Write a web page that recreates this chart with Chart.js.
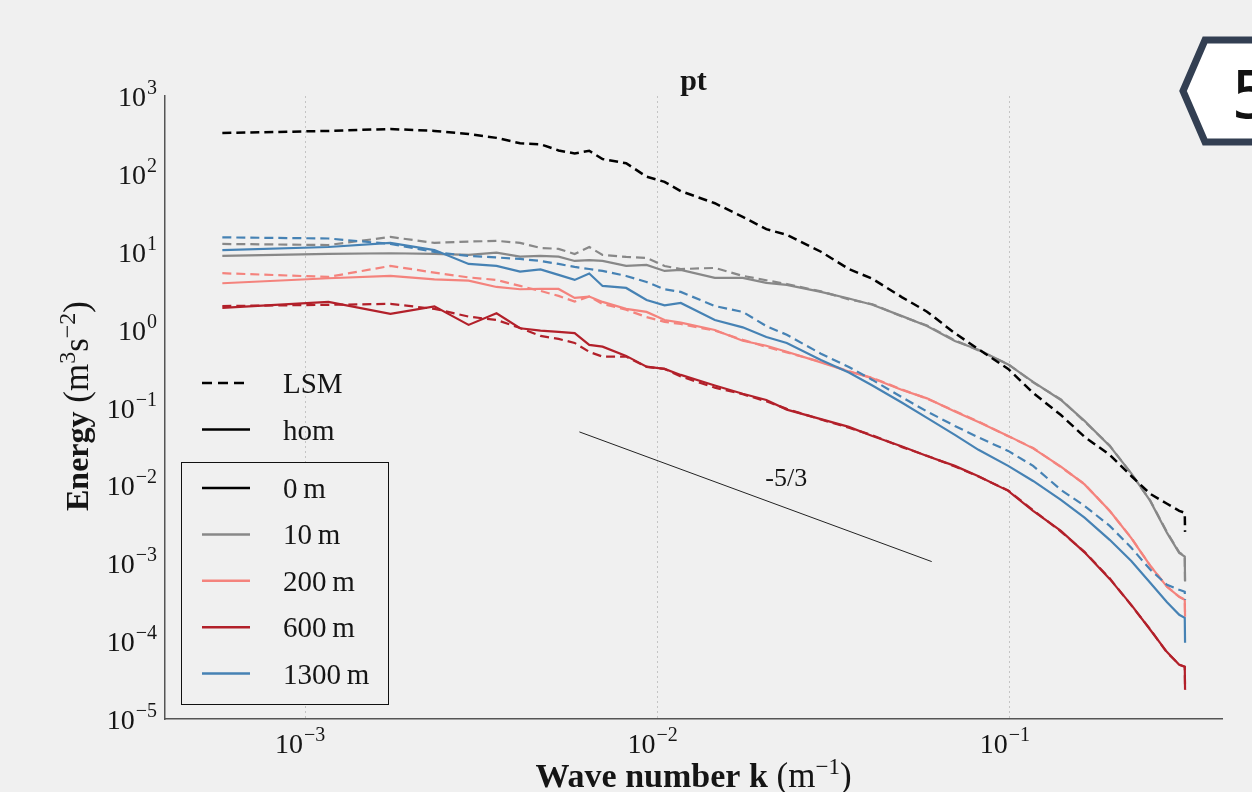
<!DOCTYPE html>
<html>
<head>
<meta charset="utf-8">
<script src="https://cdn.jsdelivr.net/npm/chart.js@4.4.0/dist/chart.umd.min.js"></script>
<style>
  html, body { margin: 0; padding: 0; background: #f0f0f0; }
  #wrap { position: relative; width: 1252px; height: 792px; overflow: hidden; }
  #badge { position: absolute; left: 0; top: 0; pointer-events: none; }
</style>
</head>
<body>
<div id="wrap">
  <canvas id="spectraChart" width="1252" height="792"></canvas>
  <svg id="badge" width="1252" height="792">
    <polygon points="1183,91 1205,40 1262,40 1262,142 1205,142" fill="#ffffff" stroke="#333f52" stroke-width="7" stroke-linejoin="miter"/>
    <text x="1231" y="118" font-family="DejaVu Sans" font-size="66" fill="#111">5</text>
  </svg>
</div>
<script>
// wave numbers (m^-1) the spectra were read at
const kValues = [5.818e-4, 1.164e-3, 1.745e-3, 2.327e-3, 2.909e-3, 3.491e-3, 4.072e-3, 4.654e-3,
    5.236e-3, 5.818e-3, 6.400e-3, 6.981e-3, 8.145e-3, 9.308e-3, 1.047e-2, 1.164e-2,
    1.454e-2, 1.745e-2, 2.036e-2, 2.327e-2, 2.909e-2, 3.491e-2, 4.072e-2, 4.945e-2,
    5.818e-2, 6.981e-2, 8.145e-2, 9.890e-2, 0.1164, 0.1396, 0.1629, 0.1920,
    0.2211, 0.2502, 0.2793, 0.3025, 0.3136, 0.3142];

// energy spectra, LSM (dashed) and hom (solid) runs per height
const lsm0m = [335, 356, 377, 356, 325, 290, 247, 240, 200, 183, 198, 155, 137, 92, 79, 60,
    42, 28, 19.5, 16.5, 10, 6.0, 4.5, 2.6, 1.7, 0.9, 0.56, 0.313, 0.154, 0.08, 0.042, 0.0247,
    0.0132, 0.00778, 0.0058, 0.00471, 0.00444, 0.00253];
const lsm10m = [12.6, 12.2, 15.5, 13.0, 13.5, 13.8, 13.0, 11.2, 10.9, 9.37, 11.5, 9.1, 8.57, 8.32, 6.57, 6.0,
    6.2, 4.9, 4.3, 3.85, 3.1, 2.45, 2.12, 1.47, 1.13, 0.73, 0.54, 0.36, 0.21, 0.127, 0.066, 0.0325,
    0.0141, 0.0064, 0.0025, 0.00138, 0.00124, 0.00052];
const hom10m = [8.83, 9.37, 9.57, 9.37, 9.1, 9.73, 8.65, 8.83, 8.65, 7.62, 7.8, 7.62, 6.58, 6.77, 5.67, 5.84,
    4.61, 4.61, 3.98, 3.75, 3.05, 2.51, 2.09, 1.49, 1.11, 0.716, 0.55, 0.357, 0.213, 0.125, 0.0673, 0.0321,
    0.01426, 0.00632, 0.00245, 0.00136, 0.00122, 0.000582];
const lsm200m = [5.3, 4.75, 6.58, 5.4, 4.68, 4.35, 3.64, 3.14, 2.71, 2.29, 2.66, 2.14, 1.8, 1.45, 1.26, 1.18,
    0.97, 0.74, 0.6, 0.51, 0.385, 0.292, 0.24, 0.17, 0.13, 0.09, 0.066, 0.0428, 0.0302, 0.0172, 0.0104, 0.0047,
    0.00212, 0.00093, 0.0005, 0.00037, 0.00034, 0.00021];
const hom200m = [3.94, 4.57, 4.89, 4.43, 4.25, 3.53, 3.3, 3.33, 3.33, 2.55, 2.66, 2.27, 1.85, 1.69, 1.33, 1.23,
    0.99, 0.72, 0.62, 0.52, 0.38, 0.29, 0.237, 0.168, 0.131, 0.089, 0.0653, 0.0432, 0.0299, 0.0174, 0.0103, 0.00471,
    0.0021, 0.000933, 0.000498, 0.000371, 0.000339, 0.000205];
const lsm600m = [2.01, 2.08, 2.14, 1.85, 1.47, 1.33, 1.05, 0.83, 0.759, 0.675, 0.518, 0.45, 0.45, 0.332, 0.313, 0.25,
    0.18, 0.148, 0.12, 0.096, 0.07, 0.055, 0.044, 0.031, 0.024, 0.0175, 0.013, 0.0086, 0.0048, 0.00255, 0.0014, 0.00064,
    0.000288, 0.000142, 0.000071, 0.00005, 0.000047, 0.000024];
const hom600m = [1.9, 2.27, 1.59, 1.99, 1.15, 1.62, 1.04, 0.97, 0.933, 0.9, 0.637, 0.605, 0.46, 0.335, 0.313, 0.262,
    0.192, 0.15, 0.125, 0.094, 0.071, 0.0564, 0.043, 0.0315, 0.0238, 0.0178, 0.0131, 0.0085, 0.00471, 0.0026, 0.00138, 0.00063,
    0.000292, 0.00014, 0.0000724, 0.0000496, 0.0000468, 0.0000237];
const lsm1300m = [15.3, 14.8, 12.6, 9.94, 8.83, 8.45, 8.09, 7.62, 6.97, 6.38, 6.01, 5.67, 4.89, 4.09, 3.3, 3.05,
    2.01, 1.69, 1.11, 0.86, 0.49, 0.332, 0.226, 0.135, 0.089, 0.058, 0.0413, 0.0277, 0.0178, 0.00875, 0.00546, 0.00302,
    0.00158, 0.00083, 0.000528, 0.000456, 0.00043, 0.00034];
const hom1300m = [10.5, 11.5, 13.0, 10.5, 6.97, 6.58, 5.56, 5.93, 5.04, 4.35, 5.26, 3.64, 3.43, 2.4, 2.05, 2.2,
    1.33, 1.07, 0.805, 0.675, 0.408, 0.282, 0.192, 0.115, 0.0735, 0.0445, 0.0286, 0.0178, 0.0114, 0.00652, 0.00385, 0.002,
    0.00107, 0.000561, 0.000315, 0.000218, 0.000199, 0.0000951];

// -5/3 reference slope
const slopeK = [6e-3, 6e-2];
const slopeE = [0.0486, 0.00105];
const slopeLabel = '-5/3';
const slopeLabelK = 0.0232;
const slopeLabelE = 0.0121;

// ticks and legend text
const xTickValues = [1e-3, 1e-2, 1e-1];
const yTickValues = [1e-5, 1e-4, 1e-3, 1e-2, 1e-1, 1, 10, 100, 1000];
const styleLabels = ['LSM', 'hom'];
const heightLabels = ['0\u2009m', '10\u2009m', '200\u2009m', '600\u2009m', '1300\u2009m'];
const heightColors = ['#000000', '#888888', '#f4837d', '#b2202a', '#4682b4'];

const dashLSM = [9, 5];
const serif = '"Liberation Serif", "DejaVu Serif", serif';

function toPoints(values) {
    return values.map((v, i) => ({ x: kValues[i], y: v }));
}

function spectrum(label, values, color, dashed) {
    return {
        label: label,
        data: toPoints(values),
        borderColor: color,
        borderWidth: dashed && color === '#000000' ? 2.5 : 2.2,
        borderDash: dashed ? dashLSM : [],
        pointRadius: 0,
        tension: 0,
        fill: false
    };
}

// writes 10^exp with a raised exponent
function drawPower(ctx, exp, x, baseline, align) {
    const base = '10';
    const sup = exp < 0 ? '\u2212' + Math.abs(exp) : String(exp);
    ctx.font = '28px ' + serif;
    const wb = ctx.measureText(base).width;
    ctx.font = '20px ' + serif;
    const ws = ctx.measureText(sup).width;
    const left = align === 'right' ? x - wb - ws - 1 : x - (wb + ws + 1) / 2 - 5;
    ctx.textAlign = 'left';
    ctx.textBaseline = 'alphabetic';
    ctx.font = '28px ' + serif;
    ctx.fillText(base, left, baseline);
    ctx.font = '20px ' + serif;
    ctx.fillText(sup, left + wb + 1, baseline - 12);
}

// text made of pieces with different fonts / raised pieces, centred on x
function drawRich(ctx, parts, x, baseline) {
    let total = 0;
    parts.forEach(p => { ctx.font = p.font; total += ctx.measureText(p.text).width; });
    let cx = x - total / 2;
    ctx.textAlign = 'left';
    ctx.textBaseline = 'alphabetic';
    parts.forEach(p => {
        ctx.font = p.font;
        ctx.fillText(p.text, cx, baseline + (p.dy || 0));
        cx += ctx.measureText(p.text).width;
    });
}

function legendLine(ctx, x0, x1, y, color, dash) {
    ctx.save();
    ctx.strokeStyle = color;
    ctx.lineWidth = 2.5;
    ctx.setLineDash(dash);
    ctx.beginPath();
    ctx.moveTo(x0, y);
    ctx.lineTo(x1, y);
    ctx.stroke();
    ctx.restore();
}

const figureText = {
    id: 'figureText',
    afterDraw(chart) {
        const ctx = chart.ctx;
        const xs = chart.scales.x;
        const ys = chart.scales.y;
        const area = chart.chartArea;
        ctx.save();
        ctx.fillStyle = '#151515';

        yTickValues.forEach(v => {
            drawPower(ctx, Math.round(Math.log10(v)), area.left - 8, ys.getPixelForValue(v) + 10, 'right');
        });
        xTickValues.forEach(v => {
            drawPower(ctx, Math.round(Math.log10(v)), xs.getPixelForValue(v), area.bottom + 34, 'center');
        });

        // title
        ctx.font = 'bold 30px ' + serif;
        ctx.textAlign = 'center';
        ctx.fillText('pt', (area.left + area.right) / 2, 90);

        // x axis title
        drawRich(ctx, [
            { text: 'Wave number k', font: 'bold 34px ' + serif },
            { text: ' (m', font: '35px ' + serif },
            { text: '\u22121', font: '23px ' + serif, dy: -13 },
            { text: ')', font: '35px ' + serif }
        ], (area.left + area.right) / 2, 787);

        // y axis title
        ctx.save();
        ctx.translate(88, 406);
        ctx.rotate(-Math.PI / 2);
        drawRich(ctx, [
            { text: 'Energy', font: 'bold 32px ' + serif },
            { text: ' (m', font: '35px ' + serif },
            { text: '3', font: '24px ' + serif, dy: -13 },
            { text: 's', font: '35px ' + serif },
            { text: '\u22122', font: '24px ' + serif, dy: -13 },
            { text: ')', font: '35px ' + serif }
        ], 0, 0);
        ctx.restore();

        // slope label
        ctx.font = '26px ' + serif;
        ctx.textAlign = 'center';
        ctx.textBaseline = 'middle';
        ctx.fillText(slopeLabel, xs.getPixelForValue(slopeLabelK), ys.getPixelForValue(slopeLabelE));

        // legend: line style
        ctx.font = '29px ' + serif;
        ctx.textAlign = 'left';
        ctx.textBaseline = 'alphabetic';
        styleLabels.forEach((lab, i) => {
            const y = 383 + i * 46.5;
            legendLine(ctx, 202, 250, y, '#000000', i === 0 ? [10, 6] : []);
            ctx.fillText(lab, 283, y + 10);
        });

        // legend: heights, framed
        ctx.fillStyle = '#f0f0f0';
        ctx.fillRect(181.5, 462.5, 207, 242);
        ctx.strokeStyle = '#111111';
        ctx.lineWidth = 1;
        ctx.strokeRect(181.5, 462.5, 207, 242);
        ctx.fillStyle = '#151515';
        heightLabels.forEach((lab, i) => {
            const y = 488 + i * 46.4;
            legendLine(ctx, 202, 250, y, heightColors[i], []);
            ctx.fillText(lab, 283, y + 10);
        });
        ctx.restore();
    }
};

const datasets = [
    spectrum('LSM 0 m', lsm0m, heightColors[0], true),
    spectrum('LSM 1300 m', lsm1300m, heightColors[4], true),
    spectrum('hom 1300 m', hom1300m, heightColors[4], false),
    spectrum('LSM 200 m', lsm200m, heightColors[2], true),
    spectrum('hom 200 m', hom200m, heightColors[2], false),
    spectrum('LSM 600 m', lsm600m, heightColors[3], true),
    spectrum('hom 600 m', hom600m, heightColors[3], false),
    spectrum('LSM 10 m', lsm10m, heightColors[1], true),
    spectrum('hom 10 m', hom10m, heightColors[1], false),
    {
        label: '-5/3',
        data: slopeK.map((k, i) => ({ x: k, y: slopeE[i] })),
        borderColor: '#222222',
        borderWidth: 1,
        pointRadius: 0
    }
];

const ctx = document.getElementById('spectraChart').getContext('2d');
const spectraChart = new Chart(ctx, {
    type: 'line',
    data: { datasets: datasets },
    options: {
        responsive: false,
        animation: false,
        layout: { padding: { left: 165, top: 96, right: 30, bottom: 73 } },
        plugins: {
            legend: { display: false },
            title: { display: false },
            tooltip: { enabled: false }
        },
        scales: {
            x: {
                type: 'logarithmic',
                min: 4e-4,
                max: 0.4,
                afterBuildTicks: axis => { axis.ticks = xTickValues.map(v => ({ value: v })); },
                ticks: { display: false },
                grid: { display: true, color: '#c4c4c4', lineWidth: 1, drawTicks: false },
                border: { display: true, color: '#555555', width: 1.5, dash: [2, 3] }
            },
            y: {
                type: 'logarithmic',
                min: 1e-5,
                max: 1e3,
                afterBuildTicks: axis => { axis.ticks = yTickValues.map(v => ({ value: v })); },
                ticks: { display: false },
                grid: { display: false, drawTicks: false },
                border: { display: true, color: '#555555', width: 1.5 }
            }
        }
    },
    plugins: [figureText]
});
</script>
</body>
</html>
